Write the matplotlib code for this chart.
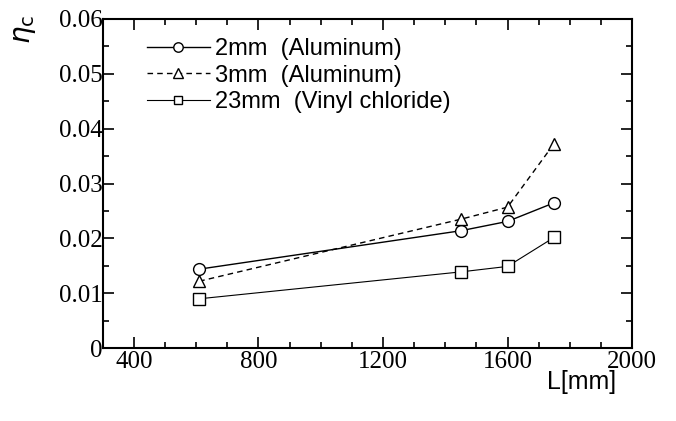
import numpy as np
import matplotlib
matplotlib.use("Agg")
import matplotlib.pyplot as plt
from matplotlib.ticker import MultipleLocator

# ---
# data: critical efficiency vs length
# ---
length_mm = [610, 1450, 1600, 1750]
eta_2mm_al = [0.0144, 0.0214, 0.0231, 0.0265]
eta_3mm_al = [0.0122, 0.0235, 0.0257, 0.0373]
eta_23mm_vc = [0.0090, 0.0139, 0.0149, 0.0202]

labels = ["2mm  (Aluminum)", "3mm  (Aluminum)", "23mm  (Vinyl chloride)"]

x_ticks = [400, 800, 1200, 1600, 2000]
y_ticks = [0, 0.01, 0.02, 0.03, 0.04, 0.05, 0.06]
y_tick_labels = ["0", "0.01", "0.02", "0.03", "0.04", "0.05", "0.06"]

# ---
# plot
# ---
fig = plt.figure(figsize=(6.76, 4.21), dpi=100)
ax = fig.add_axes([0.152, 0.173, 0.783, 0.782])

ms = 8.5
ax.plot(length_mm, eta_2mm_al, color="black", lw=1.0, ls="-",
        marker="o", ms=ms, mfc="white", mec="black", mew=1.0, label=labels[0])
ax.plot(length_mm, eta_3mm_al, color="black", lw=1.0, ls=(0, (4, 3)),
        marker="^", ms=ms, mfc="white", mec="black", mew=1.0, label=labels[1])
ax.plot(length_mm, eta_23mm_vc, color="black", lw=0.8, ls="-",
        marker="s", ms=ms - 0.5, mfc="white", mec="black", mew=1.0, label=labels[2])

ax.set_xlim(300, 2000)
ax.set_ylim(0, 0.06)

serif = ["Liberation Serif", "DejaVu Serif"]
ax.set_xticks(x_ticks)
ax.set_xticklabels([str(t) for t in x_ticks], family=serif, fontsize=18)
ax.set_yticks(y_ticks)
ax.set_yticklabels(y_tick_labels, family=serif, fontsize=18)
ax.xaxis.set_minor_locator(MultipleLocator(100))
ax.yaxis.set_minor_locator(MultipleLocator(0.005))

ax.tick_params(which="both", direction="in", top=True, right=True, width=1.2)
ax.tick_params(which="major", length=8, pad=2)
ax.tick_params(which="minor", length=4)
ax.tick_params(axis="y", which="major", pad=0)
for s in ax.spines.values():
    s.set_linewidth(1.5)

# axis labels
fig.text(0.036, 0.93, r"$\eta_{\rm c}$", rotation=90, fontsize=20,
         ha="center", va="center")
fig.text(0.86, 0.093, "L[mm]", family="Liberation Sans", fontsize=18,
         ha="center", va="center")

leg = ax.legend(loc="upper left", bbox_to_anchor=(0.065, 0.97), frameon=False,
                handlelength=2.7, handletextpad=0.2, labelspacing=0.18,
                borderaxespad=0.0, markerscale=0.8,
                prop={"family": "Liberation Sans", "size": 17})

fig.savefig("out.png", dpi=100)
